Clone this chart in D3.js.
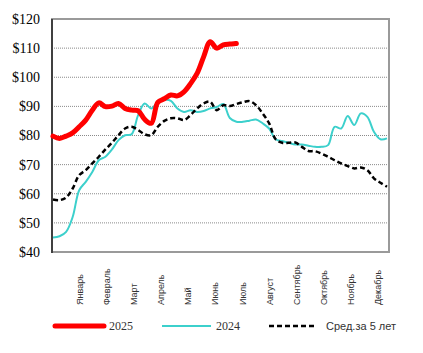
<!DOCTYPE html>
<html>
<head>
<meta charset="utf-8">
<script src="https://cdn.jsdelivr.net/npm/d3@7"></script>
<style>
  body { margin: 0; background: #fff; }
</style>
</head>
<body>
<div id="chart"></div>
<script>
const width = 423,
  height = 353;
const margin = { top: 19, right: 34, bottom: 101, left: 52 };

// данные (по неделям)
const months = ["Январь", "Февраль", "Март", "Апрель", "Май", "Июнь",
  "Июль", "Август", "Сентябрь", "Октябрь", "Ноябрь", "Декабрь"];

const yTicks = [40, 50, 60, 70, 80, 90, 100, 110, 120];

const series2025 = [79.8, 79.0, 79.8, 80.9, 83.0, 85.3, 88.7, 91.2, 89.9, 90.1,
  91.0, 89.3, 88.7, 88.5, 85.5, 84.2, 91.4, 92.6, 93.9, 93.6,
  95.0, 97.8, 101.3, 107.0, 112.2, 110.0, 111.1, 111.4, 111.6];

const series2024 = [45.0, 45.4, 46.9, 52.0, 61.2, 64.1, 67.5, 71.5, 72.7, 75.2,
  78.4, 80.1, 80.4, 87.0, 91.0, 89.3, 91.4, 92.2, 91.9, 89.3,
  88.1, 88.7, 88.1, 88.4, 89.3, 89.8, 90.8, 86.0, 84.7, 84.7,
  85.1, 85.5, 84.2, 82.4, 78.7, 78.1, 77.5, 76.9, 76.9, 76.5,
  76.1, 76.1, 76.7, 83.0, 82.4, 86.7, 83.6, 87.6, 86.4, 81.3,
  78.7, 79.0];

const series5y = [58.0, 57.8, 58.7, 61.8, 66.4, 68.1, 70.4, 72.7, 75.2, 77.5,
  80.1, 82.4, 83.0, 81.9, 80.4, 80.1, 83.0, 85.0, 85.9, 85.9,
  85.3, 87.0, 89.3, 91.0, 91.6, 88.7, 90.4, 90.1, 90.8, 91.4,
  91.8, 90.4, 87.6, 84.2, 78.7, 77.5, 77.5, 77.6, 76.1, 74.7,
  74.6, 73.8, 72.7, 71.5, 70.4, 69.5, 68.7, 69.0, 68.1, 65.3,
  63.8, 62.4];

const legendItems = [
  { label: "2025", color: "#ff0000", w: 5, dash: null, font: "Liberation Serif, Times New Roman, serif", size: 12 },
  { label: "2024", color: "#3cd0cc", w: 2, dash: null, font: "Liberation Serif, Times New Roman, serif", size: 12 },
  { label: "Сред.за 5 лет", color: "#000", w: 2.5, dash: "5,3", font: "Liberation Sans, Arial, sans-serif", size: 11 }
];

var svg = d3.select("#chart")
  .append("svg")
  .attr("width", width)
  .attr("height", height);

var iw = width - margin.left - margin.right,
  ih = height - margin.top - margin.bottom;

var x = d3.scaleLinear()
  .domain([1, 52])
  .range([margin.left + 1, margin.left + iw - 2]);

var y = d3.scaleLinear()
  .domain([40, 120])
  .range([margin.top + ih, margin.top]);

var monthX = d3.scalePoint()
  .domain(months)
  .range([x(5.1), x(50.6)]);

// сетка
svg.append("g")
  .selectAll("line")
  .data(yTicks.filter(d => d > 40 && d < 120))
  .join("line")
  .attr("x1", margin.left)
  .attr("x2", margin.left + iw)
  .attr("y1", d => y(d))
  .attr("y2", d => y(d))
  .attr("stroke", "#8a8a8a")
  .attr("stroke-width", 1)
  .attr("stroke-dasharray", "1,1");

// рамка
svg.append("rect")
  .attr("x", margin.left)
  .attr("y", margin.top)
  .attr("width", iw)
  .attr("height", ih)
  .attr("fill", "none")
  .attr("stroke", "#9a9a9a")
  .attr("stroke-width", 2);

svg.append("line")
  .attr("x1", margin.left)
  .attr("x2", margin.left)
  .attr("y1", margin.top)
  .attr("y2", margin.top + ih + 1)
  .attr("stroke", "#222")
  .attr("stroke-width", 1.5);

// подписи оси Y
svg.append("g")
  .selectAll("text")
  .data(yTicks)
  .join("text")
  .attr("x", 40)
  .attr("y", d => y(d))
  .attr("dy", "0.35em")
  .attr("text-anchor", "end")
  .style("font-family", "Liberation Serif, Times New Roman, serif")
  .style("font-size", "14px")
  .attr("fill", "#000")
  .text(d => "$" + d);

// подписи месяцев
svg.append("g")
  .selectAll("text")
  .data(months)
  .join("text")
  .attr("transform", d => "translate(" + monthX(d) + ",305) rotate(-90)")
  .attr("dy", "0.35em")
  .attr("text-anchor", "start")
  .style("font-family", "Liberation Sans, Arial, sans-serif")
  .style("font-size", "9px")
  .attr("fill", "#333")
  .text(d => d);

var line = d3.line()
  .x((d, i) => x(i + 1))
  .y(d => y(d))
  .curve(d3.curveCatmullRom.alpha(0.5));

svg.append("path")
  .datum(series2024)
  .attr("d", line)
  .attr("fill", "none")
  .attr("stroke", legendItems[1].color)
  .attr("stroke-width", legendItems[1].w);

svg.append("path")
  .datum(series5y)
  .attr("d", line)
  .attr("fill", "none")
  .attr("stroke", legendItems[2].color)
  .attr("stroke-width", legendItems[2].w)
  .attr("stroke-dasharray", legendItems[2].dash);

svg.append("path")
  .datum(series2025)
  .attr("d", line)
  .attr("fill", "none")
  .attr("stroke", legendItems[0].color)
  .attr("stroke-width", legendItems[0].w)
  .attr("stroke-linecap", "round")
  .attr("stroke-linejoin", "round");

// легенда
var legendX = [55, 162, 269];
var legend = svg.append("g")
  .selectAll("g")
  .data(legendItems)
  .join("g")
  .attr("transform", (d, i) => "translate(" + legendX[i] + ",326)");

legend.append("line")
  .attr("x1", 0)
  .attr("x2", (d, i) => i == 2 ? 45 : 49)
  .attr("stroke", d => d.color)
  .attr("stroke-width", d => d.w)
  .attr("stroke-linecap", (d, i) => i == 0 ? "round" : "butt")
  .attr("stroke-dasharray", d => d.dash);

legend.append("text")
  .attr("x", (d, i) => i == 2 ? 57 : 54)
  .attr("dy", "0.35em")
  .style("font-family", d => d.font)
  .style("font-size", d => d.size + "px")
  .attr("fill", "#333")
  .text(d => d.label);
</script>
</body>
</html>
